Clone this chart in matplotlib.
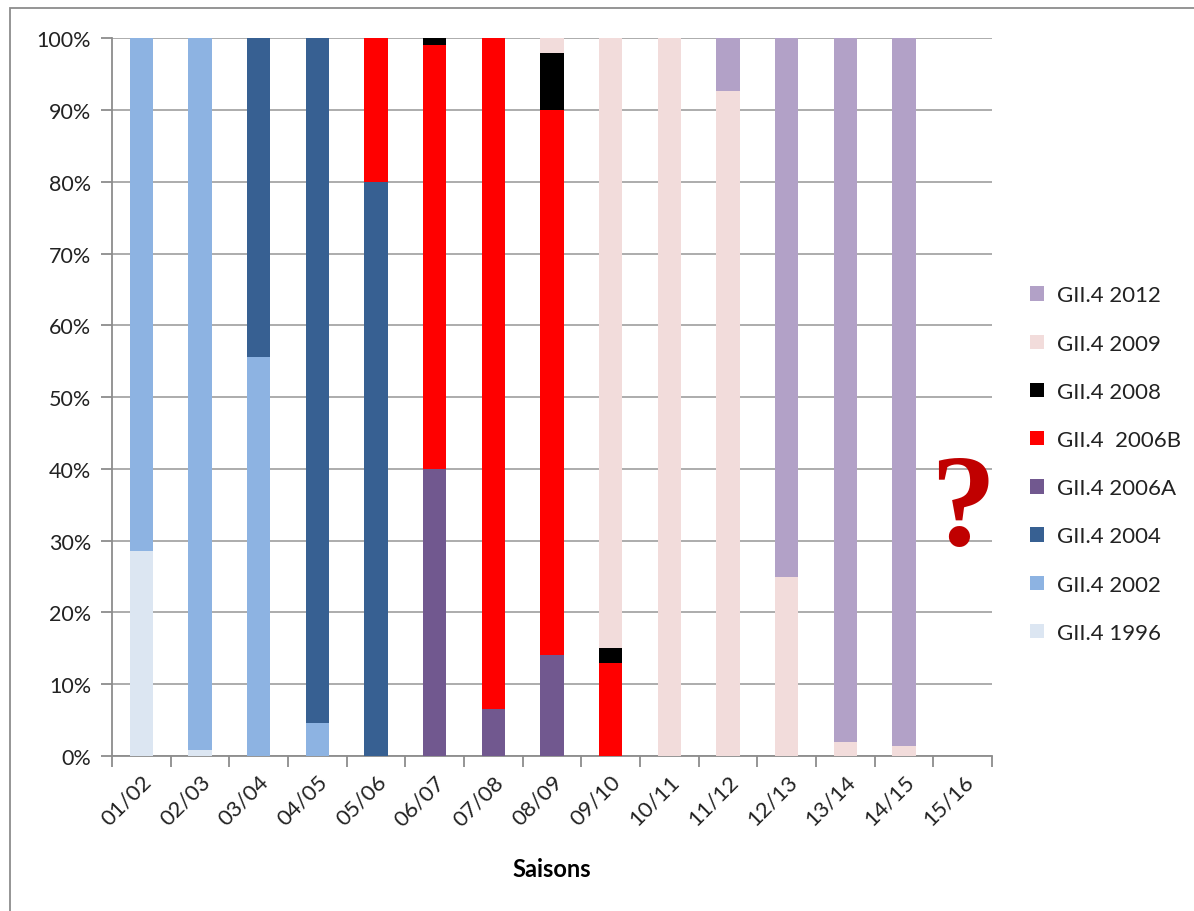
import numpy as np
import matplotlib.pyplot as plt
from matplotlib.patches import Rectangle
from matplotlib.ticker import FuncFormatter, FixedLocator, NullFormatter

plt.rcParams['font.family'] = ['Lato', 'DejaVu Sans']

seasons = ['01/02', '02/03', '03/04', '04/05', '05/06', '06/07', '07/08',
           '08/09', '09/10', '10/11', '11/12', '12/13', '13/14', '14/15', '15/16']

# share of each genotype per season, in %
gii4_1996 = [28.5, 0.8, 0, 0, 0, 0, 0, 0, 0, 0, 0, 0, 0, 0, 0]
gii4_2002 = [71.5, 99.2, 55.6, 4.6, 0, 0, 0, 0, 0, 0, 0, 0, 0, 0, 0]
gii4_2004 = [0, 0, 44.4, 95.4, 80, 0, 0, 0, 0, 0, 0, 0, 0, 0, 0]
gii4_2006a = [0, 0, 0, 0, 0, 40, 6.5, 14, 0, 0, 0, 0, 0, 0, 0]
gii4_2006b = [0, 0, 0, 0, 20, 59, 93.5, 76, 13, 0, 0, 0, 0, 0, 0]
gii4_2008 = [0, 0, 0, 0, 0, 1, 0, 8, 2, 0, 0, 0, 0, 0, 0]
gii4_2009 = [0, 0, 0, 0, 0, 0, 0, 2, 85, 100, 92.7, 25, 2, 1.4, 0]
gii4_2012 = [0, 0, 0, 0, 0, 0, 0, 0, 0, 0, 7.3, 75, 98, 98.6, 0]

series = [
    ('GII.4 1996', gii4_1996, '#dce6f2'),
    ('GII.4 2002', gii4_2002, '#8db3e2'),
    ('GII.4 2004', gii4_2004, '#376092'),
    ('GII.4 2006A', gii4_2006a, '#71588f'),
    ('GII.4  2006B', gii4_2006b, '#ff0000'),
    ('GII.4 2008', gii4_2008, '#000000'),
    ('GII.4 2009', gii4_2009, '#f2dcdb'),
    ('GII.4 2012', gii4_2012, '#b2a1c7'),
]

fig = plt.figure(figsize=(11.94, 9.12), dpi=100)
ax = fig.add_axes([0.0938, 0.170, 0.737, 0.787])

x = np.arange(len(seasons))
bottom = np.zeros(len(seasons))
handles = []
for name, vals, col in series:
    vals = np.array(vals, dtype=float)
    h = ax.bar(x, vals, width=0.4, bottom=bottom, color=col, label=name,
               linewidth=0, zorder=3)
    handles.append(h)
    bottom += vals

ax.set_xlim(-0.5, len(seasons) - 0.5)
ax.set_ylim(0, 100)
ax.set_yticks(np.arange(0, 101, 10))
ax.yaxis.set_major_formatter(FuncFormatter(lambda v, p: '%d%%' % v))
ax.grid(axis='y', color='#a6a6a6', linewidth=1.3, zorder=0)

# category labels centred, tick marks on the boundaries
ax.set_xticks(x)
ax.set_xticklabels(seasons, rotation=45, ha='right', rotation_mode='anchor',
                   fontsize=16, color='#222222')
ax.tick_params(axis='x', which='major', length=0, pad=11)
ax.xaxis.set_minor_locator(FixedLocator(np.arange(-0.5, len(seasons), 1)))
ax.xaxis.set_minor_formatter(NullFormatter())
ax.tick_params(axis='x', which='minor', length=8, color='#8c8c8c', width=1.3)
ax.tick_params(axis='y', length=8, color='#8c8c8c', width=1.3, labelsize=15.5,
               labelcolor='#222222', pad=7)

for s in ['top', 'right']:
    ax.spines[s].set_visible(False)
for s in ['left', 'bottom']:
    ax.spines[s].set_color('#8c8c8c')
    ax.spines[s].set_linewidth(1.3)

ax.set_xlabel('Saisons', fontsize=17, fontweight='bold', labelpad=20)

leg = fig.legend(handles[::-1], [s[0] for s in series][::-1],
                 loc='upper left', bbox_to_anchor=(0.846, 0.708),
                 frameon=False, fontsize=16, handlelength=0.62, handleheight=0.62,
                 handletextpad=0.6, labelspacing=1.27, labelcolor='#222222')

fig.text(0.806, 0.437, '?', color='#c00000', fontsize=94, fontweight='bold',
         family='Liberation Serif', ha='center', va='center')

# chart frame
fig.patches.append(Rectangle((10 / 1194, -0.05), 1.2, 0.05 + (912 - 9) / 912,
                             transform=fig.transFigure, fill=False,
                             edgecolor='#8c8c8c', linewidth=1.3))

fig.savefig('out.png', dpi=100)
